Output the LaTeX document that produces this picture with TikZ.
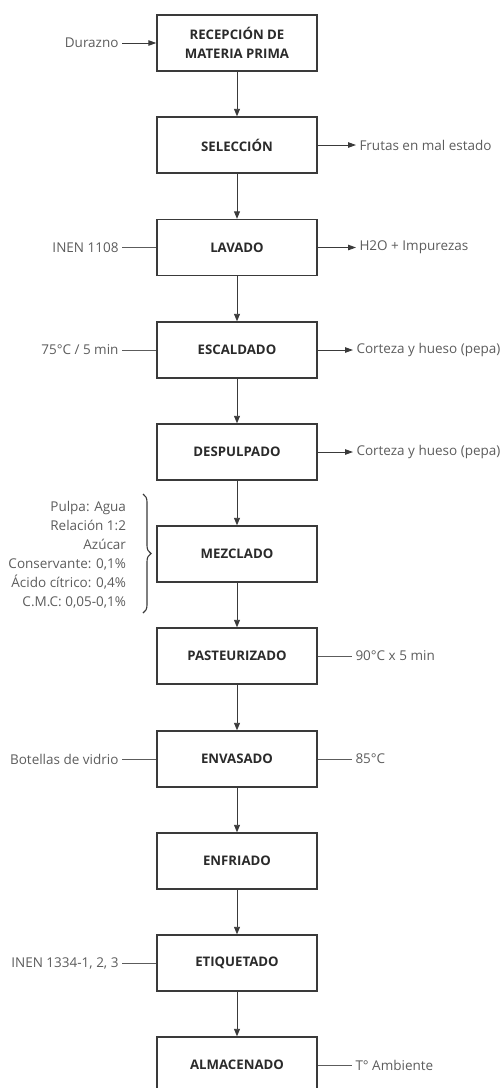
\documentclass[tikz,border=0pt]{standalone}
\usepackage{fontspec}
\setmainfont{Open Sans}
\usetikzlibrary{arrows.meta,decorations.pathreplacing}
\definecolor{boxline}{HTML}{3A3A3A}
\definecolor{labgray}{HTML}{5C5C5C}
\definecolor{boxtext}{HTML}{2A2A2A}
\begin{document}
\begin{tikzpicture}[x=1pt,y=-1pt,
  stepbox/.style={draw=boxline,line width=1.4pt,minimum width=160pt,minimum height=56pt,
    font=\fontsize{13.2}{19.5}\selectfont\bfseries,text=boxtext,align=center,inner sep=0pt},
  lab/.style={font=\fontsize{13.5}{19}\selectfont,text=labgray,inner sep=0pt,outer xsep=3.5pt},
  flow/.style={draw=boxline,line width=0.9pt,-{Triangle[length=7.5pt,width=6pt]}},
  sidearrow/.style={draw=boxline,line width=0.9pt,-{Triangle[length=8pt,width=5.5pt]}},
  side/.style={draw=labgray,line width=0.9pt},
  bracestyle/.style={draw=boxline,line width=1.1pt,decorate,decoration={brace,amplitude=8pt}}
]
\useasboundingbox (0,0) rectangle (501,1088);
\clip (0,0) rectangle (501,1088);

% process boxes
\node[stepbox] (b1) at (237,43) {RECEPCIÓN DE\\MATERIA PRIMA};
\node[stepbox] (b2) at (237,145) {SELECCIÓN};
\node[stepbox] (b3) at (237,247.5) {LAVADO};
\node[stepbox] (b4) at (237,350) {ESCALDADO};
\node[stepbox] (b5) at (237,452) {DESPULPADO};
\node[stepbox] (b6) at (237,554) {MEZCLADO};
\node[stepbox] (b7) at (237,656) {PASTEURIZADO};
\node[stepbox] (b8) at (237,759) {ENVASADO};
\node[stepbox] (b9) at (237,861) {ENFRIADO};
\node[stepbox] (b10) at (237,963) {ETIQUETADO};
\node[stepbox] (b11) at (237,1065) {ALMACENADO};

% main flow
\draw[flow] (b1) -- (b2);
\draw[flow] (b2) -- (b3);
\draw[flow] (b3) -- (b4);
\draw[flow] (b4) -- (b5);
\draw[flow] (b5) -- (b6);
\draw[flow] (b6) -- (b7);
\draw[flow] (b7) -- (b8);
\draw[flow] (b8) -- (b9);
\draw[flow] (b9) -- (b10);
\draw[flow] (b10) -- (b11);

% left labels
\node[lab,anchor=east] (l1) at (122,43) {Durazno};
\node[lab,anchor=east] (l3) at (122,247.5) {INEN 1108};
\node[lab,anchor=east] (l4) at (122,350) {75°C / 5 min};
\node[lab,anchor=east] (l8) at (122,759) {Botellas de vidrio};
\node[lab,anchor=east] (l10) at (122,963) {INEN 1334-1, 2, 3};

\draw[sidearrow] (l1.east) -- (b1.west);
\draw[side] (l3.east) -- (b3.west);
\draw[side] (l4.east) -- (b4.west);
\draw[side] (l8.east) -- (b8.west);
\draw[side] (l10.east) -- (b10.west);

% mixing ingredients with brace
\node[lab,anchor=east,align=right,outer xsep=0pt] (l6) at (126,554.5)
  {Pulpa: Agua\\Relación 1:2\\Azúcar\\Conservante: 0,1\%\\Ácido cítrico: 0,4\%\\C.M.C: 0,05-0,1\%};
\coordinate (bt) at (143,494);
\coordinate (bb) at (143,613);
\draw[bracestyle] (bt) -- (bb);

% right labels
\node[lab,anchor=west] (r2) at (356,145) {Frutas en mal estado};
\node[lab,anchor=west] (r3) at (356,247.5) {H2O + Impurezas};
\node[lab,anchor=west] (r4) at (353,350) {Corteza y hueso (pepa)};
\node[lab,anchor=west] (r5) at (353,452) {Corteza y hueso (pepa)};
\node[lab,anchor=west] (r7) at (352,656) {90°C x 5 min};
\node[lab,anchor=west] (r8) at (352,759) {85°C};
\node[lab,anchor=west] (r11) at (352,1065) {T° Ambiente};

\draw[sidearrow] (b2.east) -- (r2.west);
\draw[sidearrow] (b3.east) -- (r3.west);
\draw[sidearrow] (b4.east) -- (r4.west);
\draw[sidearrow] (b5.east) -- (r5.west);
\draw[side] (b7.east) -- (r7.west);
\draw[side] (b8.east) -- (r8.west);
\draw[side] (b11.east) -- (r11.west);
\end{tikzpicture}
\end{document}
